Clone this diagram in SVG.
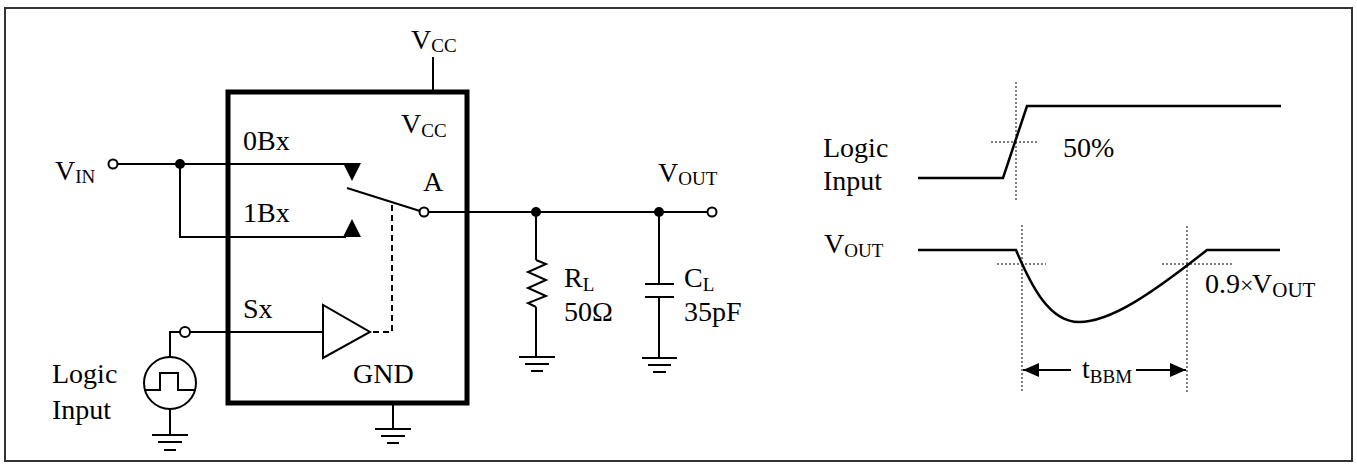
<svg xmlns="http://www.w3.org/2000/svg" width="1357" height="464" viewBox="0 0 1357 464">
<style>
text{font-family:"Liberation Serif","Times New Roman",serif;font-size:28px;fill:#000}
.sub{font-size:19px}
.w{fill:none;stroke:#000;stroke-width:2}
.wave{fill:none;stroke:#000;stroke-width:2.5}
.dot{fill:none;stroke:#000;stroke-width:1;stroke-dasharray:2,2}
.jn{fill:#000;stroke:none}
.oc{fill:#fff;stroke:#000;stroke-width:2}
.gnd{fill:none;stroke:#000;stroke-width:2}
</style>
<defs>
<marker id="ah" markerWidth="16" markerHeight="14" refX="16" refY="7" orient="auto" markerUnits="userSpaceOnUse">
<path d="M0,0 L16,7 L0,14 Z" fill="#000"/>
</marker>
</defs>
<rect x="5" y="8" width="1347" height="453" fill="#fff" stroke="#333" stroke-width="2"/>

<g id="connectors">
<path class="w" d="M118,164 H346"/>
<path class="w" d="M180,164 V237 H346"/>
<path class="w" d="M433,57 V92"/>
<path class="w" d="M347,188 L420,211"/>
<path class="w" d="M428,212 H707"/>
<path class="w" d="M392,205 V332 H372" stroke-dasharray="6,4"/>
<path class="w" d="M190,332 H323"/>
<path class="w" d="M180,332 H170 V357"/>
<path class="w" d="M170,409 V435"/>
<path class="w" d="M393,403 V429"/>
<path class="w" d="M536,212 V260"/>
<path class="w" d="M536,307 V357"/>
<path class="w" d="M659,212 V284"/>
<path class="w" d="M659,297 V358"/>
</g>

<g id="chip">
<rect x="228" y="92" width="239" height="311" fill="none" stroke="#000" stroke-width="5"/>
<text x="401" y="133">V<tspan class="sub" dy="4">CC</tspan></text>
<text x="243" y="150">0Bx</text>
<text x="243" y="222">1Bx</text>
<text x="423" y="191">A</text>
<text x="243" y="318">Sx</text>
<text x="353" y="383">GND</text>
</g>

<g id="vcc-top">
<text x="411" y="49">V<tspan class="sub" dy="3">CC</tspan></text>
</g>

<g id="switch-contacts">
<path d="M343,163 H361 L352,181 Z" fill="#000"/>
<path d="M343,237 H361 L352,219 Z" fill="#000"/>
<circle class="oc" cx="424" cy="212" r="4.5"/>
</g>

<g id="buffer">
<path d="M323,305 L323,358 L370,332 Z" fill="#fff" stroke="#000" stroke-width="2"/>
</g>

<g id="vin">
<circle class="oc" cx="113" cy="164" r="4.5"/>
<circle class="jn" cx="180" cy="164" r="5"/>
<text x="55" y="180">V<tspan class="sub" dy="3">IN</tspan></text>
</g>

<g id="logic-source">
<circle class="oc" cx="185" cy="332" r="5"/>
<circle cx="170" cy="383" r="26" fill="#fff" stroke="#000" stroke-width="2"/>
<path class="w" d="M144,390 H160 V373 H178 V390 H196"/>
<text x="52" y="383">Logic</text>
<text x="52" y="419">Input</text>
</g>

<g id="gnd-source">
<path class="gnd" d="M152,435 H188 M158,442 H182 M164,450 H176"/>
</g>

<g id="gnd-chip">
<path class="gnd" d="M375,429 H411 M381,436 H405 M387,443 H399"/>
</g>

<g id="rl">
<circle class="jn" cx="536" cy="212" r="5"/>
<path class="w" d="M536,260 L546,264 L528,272 L546,280 L528,288 L546,296 L528,303 L536,307"/>
<path class="gnd" d="M519,357 H555 M525,364 H549 M531,371 H543"/>
<text x="564" y="287">R<tspan class="sub" dy="4">L</tspan></text>
<text x="564" y="321">50Ω</text>
</g>

<g id="cl">
<circle class="jn" cx="659" cy="212" r="5"/>
<path class="w" d="M645,284 H674 M645,297 H674" stroke-width="2.5"/>
<path class="gnd" d="M642,358 H677 M648,365 H671 M653,372 H666"/>
<text x="684" y="287">C<tspan class="sub" dy="4">L</tspan></text>
<text x="684" y="321">35pF</text>
</g>

<g id="vout">
<circle class="oc" cx="712" cy="212" r="4.5"/>
<text x="658" y="182">V<tspan class="sub" dy="3">OUT</tspan></text>
</g>

<g id="timing-logic">
<text x="823" y="157">Logic</text>
<text x="823" y="190">Input</text>
<path class="wave" d="M918,178 H1003 L1027,106 H1281"/>
<path class="dot" d="M1016,82 V200 M991,142 H1039"/>
<text x="1063" y="157">50%</text>
</g>

<g id="timing-vout">
<text x="824" y="253">V<tspan class="sub" dy="4">OUT</tspan></text>
<path class="wave" d="M918,250 H1016 C1032,288 1050,322 1079,322 C1110,322 1150,295 1207,250 H1280"/>
<path class="dot" d="M1022,225 V393 M997,264 H1046 M1187,226 V393 M1162,264 H1234"/>
<text x="1205" y="293">0.9<tspan x="1240" font-size="24">×</tspan><tspan x="1252">V</tspan><tspan font-size="21" dy="4">OUT</tspan></text>
</g>

<g id="tbbm">
<path class="w" d="M1071,370 H1023" stroke-width="2.5" marker-end="url(#ah)"/>
<path class="w" d="M1136,370 H1186" stroke-width="2.5" marker-end="url(#ah)"/>
<text x="1082" y="378">t<tspan class="sub" dy="5">BBM</tspan></text>
</g>
</svg>
